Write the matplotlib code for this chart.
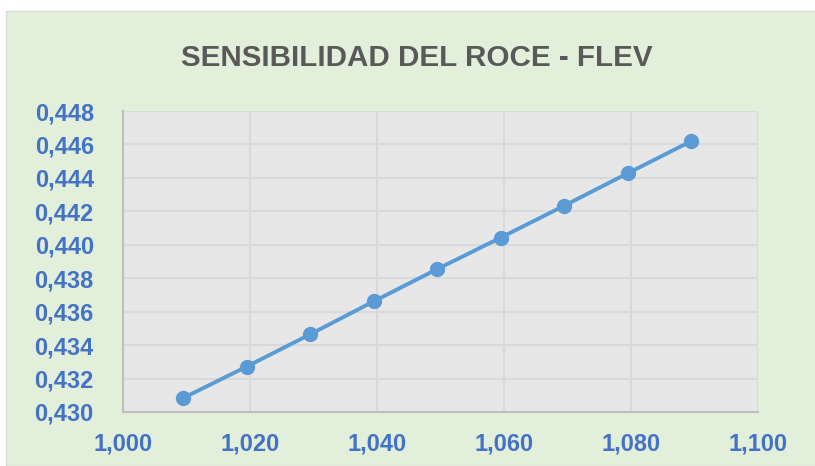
import matplotlib.pyplot as plt
from matplotlib.patches import Rectangle
from matplotlib.ticker import FuncFormatter

# datos
flev = [1.0095, 1.0195, 1.0295, 1.0395, 1.0495, 1.0595, 1.0695, 1.0795, 1.0895]
roce = [0.43084, 0.43272, 0.43465, 0.43662, 0.43855, 0.44043, 0.44234, 0.44428, 0.44620]
x_ticks = [1.000, 1.020, 1.040, 1.060, 1.080, 1.100]
y_ticks = [0.430, 0.432, 0.434, 0.436, 0.438, 0.440, 0.442, 0.444, 0.446, 0.448]
title = 'SENSIBILIDAD DEL ROCE - FLEV'

W, H = 815, 466
fig = plt.figure(figsize=(W / 100, H / 100), dpi=100, facecolor='white')

# fondo verde del area del grafico
bg = Rectangle((6 / W, 0), 1, 1 - 11 / H, transform=fig.transFigure,
               facecolor='#E2EFDA', edgecolor='#D9D9D9', lw=1, zorder=-10)
fig.add_artist(bg)

ax = fig.add_axes([123 / W, 1 - 412 / H, (758 - 123) / W, (412 - 111) / H])
ax.set_facecolor('#E7E7E7')

ax.plot(flev, roce, color='#5B9BD5', lw=2.8, marker='o', ms=10,
        markerfacecolor='#5B9BD5', markeredgecolor='#5B9BD5', zorder=3)

ax.set_xlim(1.000, 1.100)
ax.set_ylim(0.430, 0.448)
ax.set_xticks(x_ticks)
ax.set_yticks(y_ticks)
fmt = FuncFormatter(lambda v, p: f'{v:.3f}'.replace('.', ','))
ax.xaxis.set_major_formatter(fmt)
ax.yaxis.set_major_formatter(fmt)

ax.grid(True, color='#D9D9D9', lw=1.5)
ax.set_axisbelow(True)
for s in ['top', 'right']:
    ax.spines[s].set_visible(False)
for s in ['left', 'bottom']:
    ax.spines[s].set_color('#BFBFBF')
    ax.spines[s].set_linewidth(1.5)

ax.tick_params(length=0, pad=21, colors='#4472C4', labelsize=17)
for lab in ax.get_xticklabels() + ax.get_yticklabels():
    lab.set_fontfamily('Liberation Sans')
    lab.set_fontweight('bold')
ax.tick_params(axis='x', pad=15)

t = fig.text(417 / W, 1 - 58 / H, title, ha='center', va='center',
             fontsize=22, fontweight='bold', color='#595959',
             family=['Liberation Sans', 'DejaVu Sans'])
# ajustar el ancho del titulo a ~470 px
r = fig.canvas.get_renderer()
w = t.get_window_extent(r).width
t.set_fontsize(22 * 470 / w)

fig.savefig('out.png', dpi=100)
